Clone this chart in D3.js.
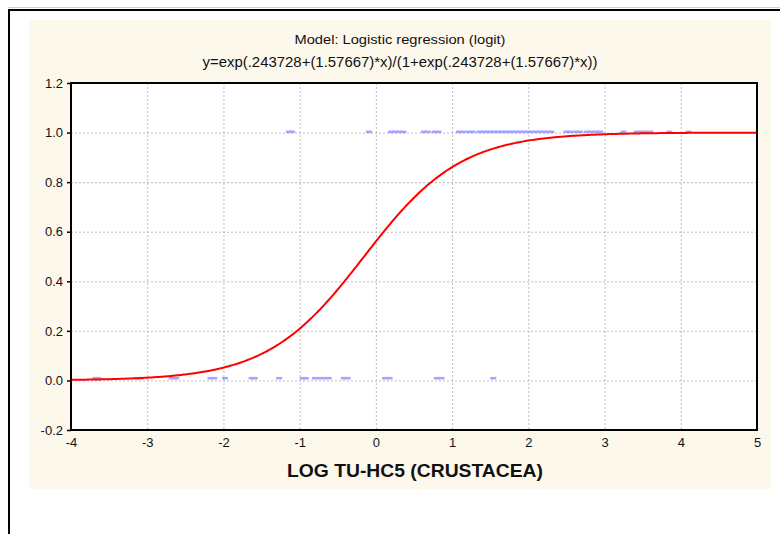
<!DOCTYPE html>
<html>
<head>
  <meta charset="utf-8">
  <script src="https://d3js.org/d3.v7.min.js"></script>
  <style>
    body { margin: 0; background: #fff; }
    text { font-family: "Liberation Sans", Arial, sans-serif; }
  </style>
</head>
<body>
  <svg id="chart"></svg>
  <script>
    var titleLines = ["Model: Logistic regression (logit)",
                      "y=exp(.243728+(1.57667)*x)/(1+exp(.243728+(1.57667)*x))"];
    var xLabel = "LOG TU-HC5 (CRUSTACEA)";
    var intercept = 0.243728;
    var slope = 1.57667;
    var xTicks = [-4, -3, -2, -1, 0, 1, 2, 3, 4, 5];
    var yTicks = [-0.2, 0.0, 0.2, 0.4, 0.6, 0.8, 1.0, 1.2];
    var zeroCases = [-3.68, -3.64, -3.13, -3.09, -2.68, -2.62, -2.17, -2.12, -1.98,
                     -1.63, -1.59, -1.27, -0.96, -0.92, -0.80, -0.74, -0.68, -0.62,
                     -0.42, -0.37, 0.12, 0.18, 0.80, 0.86, 1.54];
    var oneCases = [-1.14, -1.10, -0.09, 0.20, 0.25, 0.30, 0.36, 0.63, 0.68, 0.77, 0.82,
                    1.09, 1.14, 1.22, 1.27, 1.36, 1.40, 1.45, 1.50, 1.55, 1.60, 1.65,
                    1.70, 1.75, 1.80, 1.85, 1.90, 1.95, 2.00, 2.05, 2.10, 2.15, 2.20,
                    2.25, 2.30, 2.50, 2.55, 2.62, 2.68, 2.77, 2.82, 2.88, 2.94, 3.25,
                    3.42, 3.48, 3.53, 3.60, 3.85, 4.10];

    var width = 780, height = 534;
    var svg = d3.select("#chart").attr("width", width).attr("height", height);
    var hyphen = f => (d => f(d).replace("\u2212", "-"));

    // outer frame
    svg.append("line").attr("x1", 8).attr("x2", width).attr("y1", 7.5).attr("y2", 7.5)
       .attr("stroke", "#cfcfcf");
    svg.append("line").attr("x1", 8).attr("x2", width).attr("y1", 10).attr("y2", 10)
       .attr("stroke", "#000").attr("stroke-width", 2);
    svg.append("line").attr("x1", 9).attr("x2", 9).attr("y1", 9).attr("y2", height)
       .attr("stroke", "#000").attr("stroke-width", 2);

    // beige panel
    svg.append("rect").attr("x", 29).attr("y", 20).attr("width", 742).attr("height", 469)
       .attr("fill", "#fdf8ec");

    var x = d3.scaleLinear().domain([-4, 5]).range([71, 757]);
    var y = d3.scaleLinear().domain([-0.2, 1.2]).range([430, 83]);

    svg.append("rect").attr("x", x(-4)).attr("y", y(1.2))
       .attr("width", x(5) - x(-4)).attr("height", y(-0.2) - y(1.2))
       .attr("fill", "#fff");

    // grid
    svg.append("g").selectAll("line").data(xTicks.slice(1, -1)).join("line")
       .attr("x1", d => x(d) + 0.5).attr("x2", d => x(d) + 0.5)
       .attr("y1", y(1.2)).attr("y2", y(-0.2))
       .attr("stroke", "#bdbdbd").attr("stroke-dasharray", "2,2");
    svg.append("g").selectAll("line").data(yTicks.slice(1, -1)).join("line")
       .attr("x1", x(-4)).attr("x2", x(5))
       .attr("y1", d => y(d) + 0.5).attr("y2", d => y(d) + 0.5)
       .attr("stroke", "#bdbdbd").attr("stroke-dasharray", "2,2");

    // axes
    var yAxis = svg.append("g").attr("transform", "translate(" + x(-4) + ",0)")
       .call(d3.axisLeft(y).tickValues(yTicks).tickFormat(hyphen(d3.format(".1f")))
             .tickSize(4).tickPadding(4));
    yAxis.select(".domain").remove();
    yAxis.selectAll("line").attr("stroke", "#000").attr("stroke-width", 1.5);
    yAxis.selectAll("text").attr("font-size", 13).attr("fill", "#111")
       .attr("font-family", "Liberation Sans, Arial, sans-serif");

    var xAxis = svg.append("g").attr("transform", "translate(0," + y(-0.2) + ")")
       .call(d3.axisBottom(x).tickValues(xTicks).tickFormat(hyphen(d3.format("d")))
             .tickSize(0).tickPadding(8));
    xAxis.select(".domain").remove();
    xAxis.selectAll("text").attr("font-size", 13).attr("fill", "#111")
       .attr("font-family", "Liberation Sans, Arial, sans-serif");

    // observed cases
    var pts = svg.append("g").attr("fill", "#8080ff").attr("opacity", 0.7);
    pts.selectAll(".p0").data(zeroCases).join("rect").attr("class", "p0")
       .attr("x", d => x(d) - 3).attr("y", y(0) - 3.5).attr("width", 6).attr("height", 2.5);
    pts.selectAll(".p1").data(oneCases).join("rect").attr("class", "p1")
       .attr("x", d => x(d) - 3).attr("y", y(1) - 2).attr("width", 6).attr("height", 2.5);

    // fitted curve
    var curveX = d3.range(-4, 5.001, 0.02);
    var line = d3.line()
       .x(d => x(d))
       .y(d => y(Math.exp(intercept + slope * d) / (1 + Math.exp(intercept + slope * d))));
    svg.append("path").datum(curveX).attr("d", line)
       .attr("fill", "none").attr("stroke", "#ff0000").attr("stroke-width", 2);

    // plot frame
    svg.append("rect").attr("x", x(-4)).attr("y", y(1.2))
       .attr("width", x(5) - x(-4)).attr("height", y(-0.2) - y(1.2))
       .attr("fill", "none").attr("stroke", "#000").attr("stroke-width", 2);

    // titles
    svg.append("text").attr("x", 400).attr("y", 44).attr("text-anchor", "middle")
       .attr("font-size", 13).attr("fill", "#111")
       .attr("textLength", 211).attr("lengthAdjust", "spacingAndGlyphs")
       .text(titleLines[0]);
    svg.append("text").attr("x", 400).attr("y", 67).attr("text-anchor", "middle")
       .attr("font-size", 14).attr("fill", "#111")
       .attr("textLength", 395).attr("lengthAdjust", "spacingAndGlyphs")
       .text(titleLines[1]);
    svg.append("text").attr("x", 415).attr("y", 477).attr("text-anchor", "middle")
       .attr("font-size", 19).attr("font-weight", "bold").attr("fill", "#111")
       .attr("textLength", 256).attr("lengthAdjust", "spacingAndGlyphs")
       .text(xLabel);
  </script>
</body>
</html>
